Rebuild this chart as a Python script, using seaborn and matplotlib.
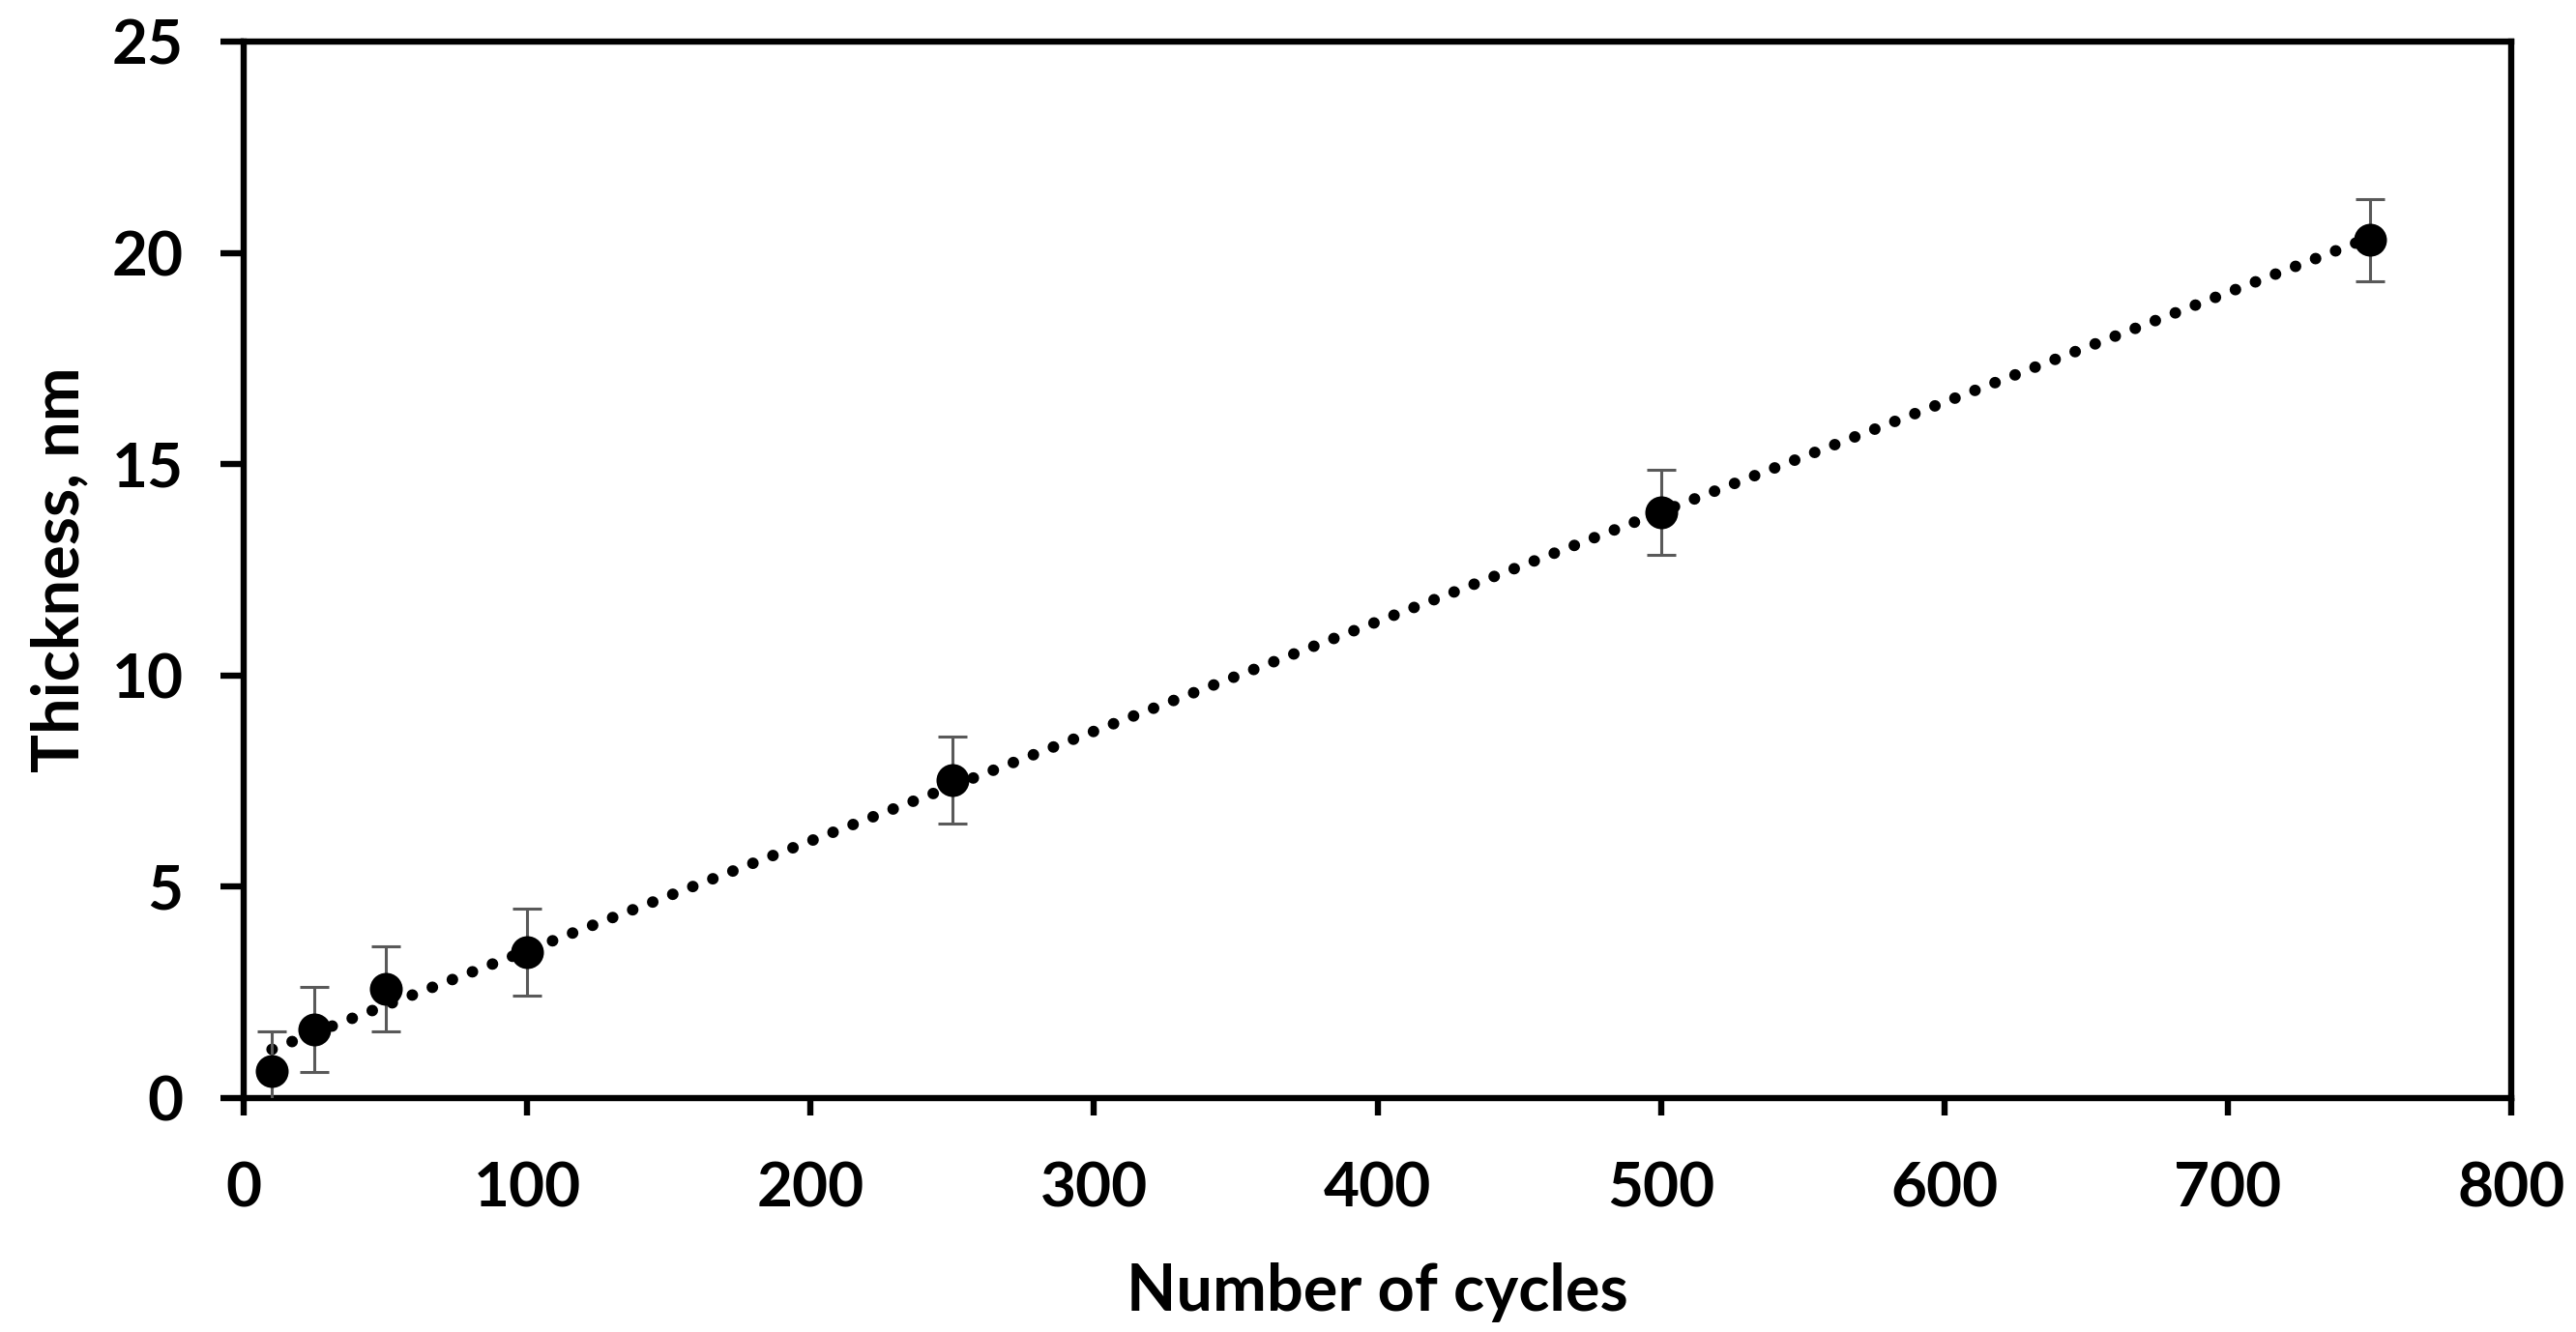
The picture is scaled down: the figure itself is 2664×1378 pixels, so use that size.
import numpy as np
import pandas as pd
import matplotlib
matplotlib.use('Agg')
import matplotlib.pyplot as plt
import seaborn as sns

# Thickness vs number of deposition cycles
cycles = [10, 25, 50, 100, 250, 500, 750]
thickness = [0.64, 1.62, 2.59, 3.45, 7.53, 13.86, 20.3]
thickness_err = [0.95, 1.0, 1.0, 1.03, 1.03, 1.0, 0.97]

x_ticks = [0, 100, 200, 300, 400, 500, 600, 700, 800]
y_ticks = [0, 5, 10, 15, 20, 25]

df = pd.DataFrame({'Cycles': cycles, 'Thickness': thickness, 'Err': thickness_err})

sns.set_theme(style='white')
plt.rcParams['font.family'] = ['Lato', 'DejaVu Sans']
plt.rcParams['font.weight'] = 'bold'

fig = plt.figure(figsize=(13.32, 6.89), dpi=200)
ax = fig.add_axes([0.0946, 0.1756, 0.8803, 0.7932])

# dotted linear trend line
sns.regplot(data=df, x='Cycles', y='Thickness', scatter=False, ci=None, ax=ax,
            line_kws=dict(color='black', lw=4.3, linestyle=(0, (0.01, 1.85)),
                          dash_capstyle='round', zorder=2))

# error bars
ax.errorbar(df['Cycles'], df['Thickness'], yerr=df['Err'], fmt='none',
            ecolor='#595959', elinewidth=1.1, capsize=5.4, capthick=1.1, zorder=3)

# markers
sns.scatterplot(data=df, x='Cycles', y='Thickness', ax=ax, color='black',
                s=150, edgecolor='black', linewidth=0, zorder=4)

ax.set_xlim(0, 800)
ax.set_ylim(0, 25)
ax.set_xticks(x_ticks)
ax.set_yticks(y_ticks)

for side in ['left', 'bottom', 'top', 'right']:
    ax.spines[side].set_visible(True)
    ax.spines[side].set_color('black')
    ax.spines[side].set_linewidth(2.3)

ax.tick_params(axis='both', which='major', direction='out', width=2.3,
               color='black', labelsize=23, labelcolor='black')
ax.tick_params(axis='x', bottom=True, top=False, length=6.5, pad=17)
ax.tick_params(axis='y', left=True, right=False, length=8.5, pad=14)
for lbl in ax.get_xticklabels() + ax.get_yticklabels():
    lbl.set_fontweight('bold')

ax.set_xlabel('Number of cycles', fontsize=24, fontweight='bold', color='black', labelpad=17)
ax.set_ylabel('Thickness, nm', fontsize=24, fontweight='bold', color='black', labelpad=8)

fig.savefig('out.png', dpi=200, facecolor='white')
